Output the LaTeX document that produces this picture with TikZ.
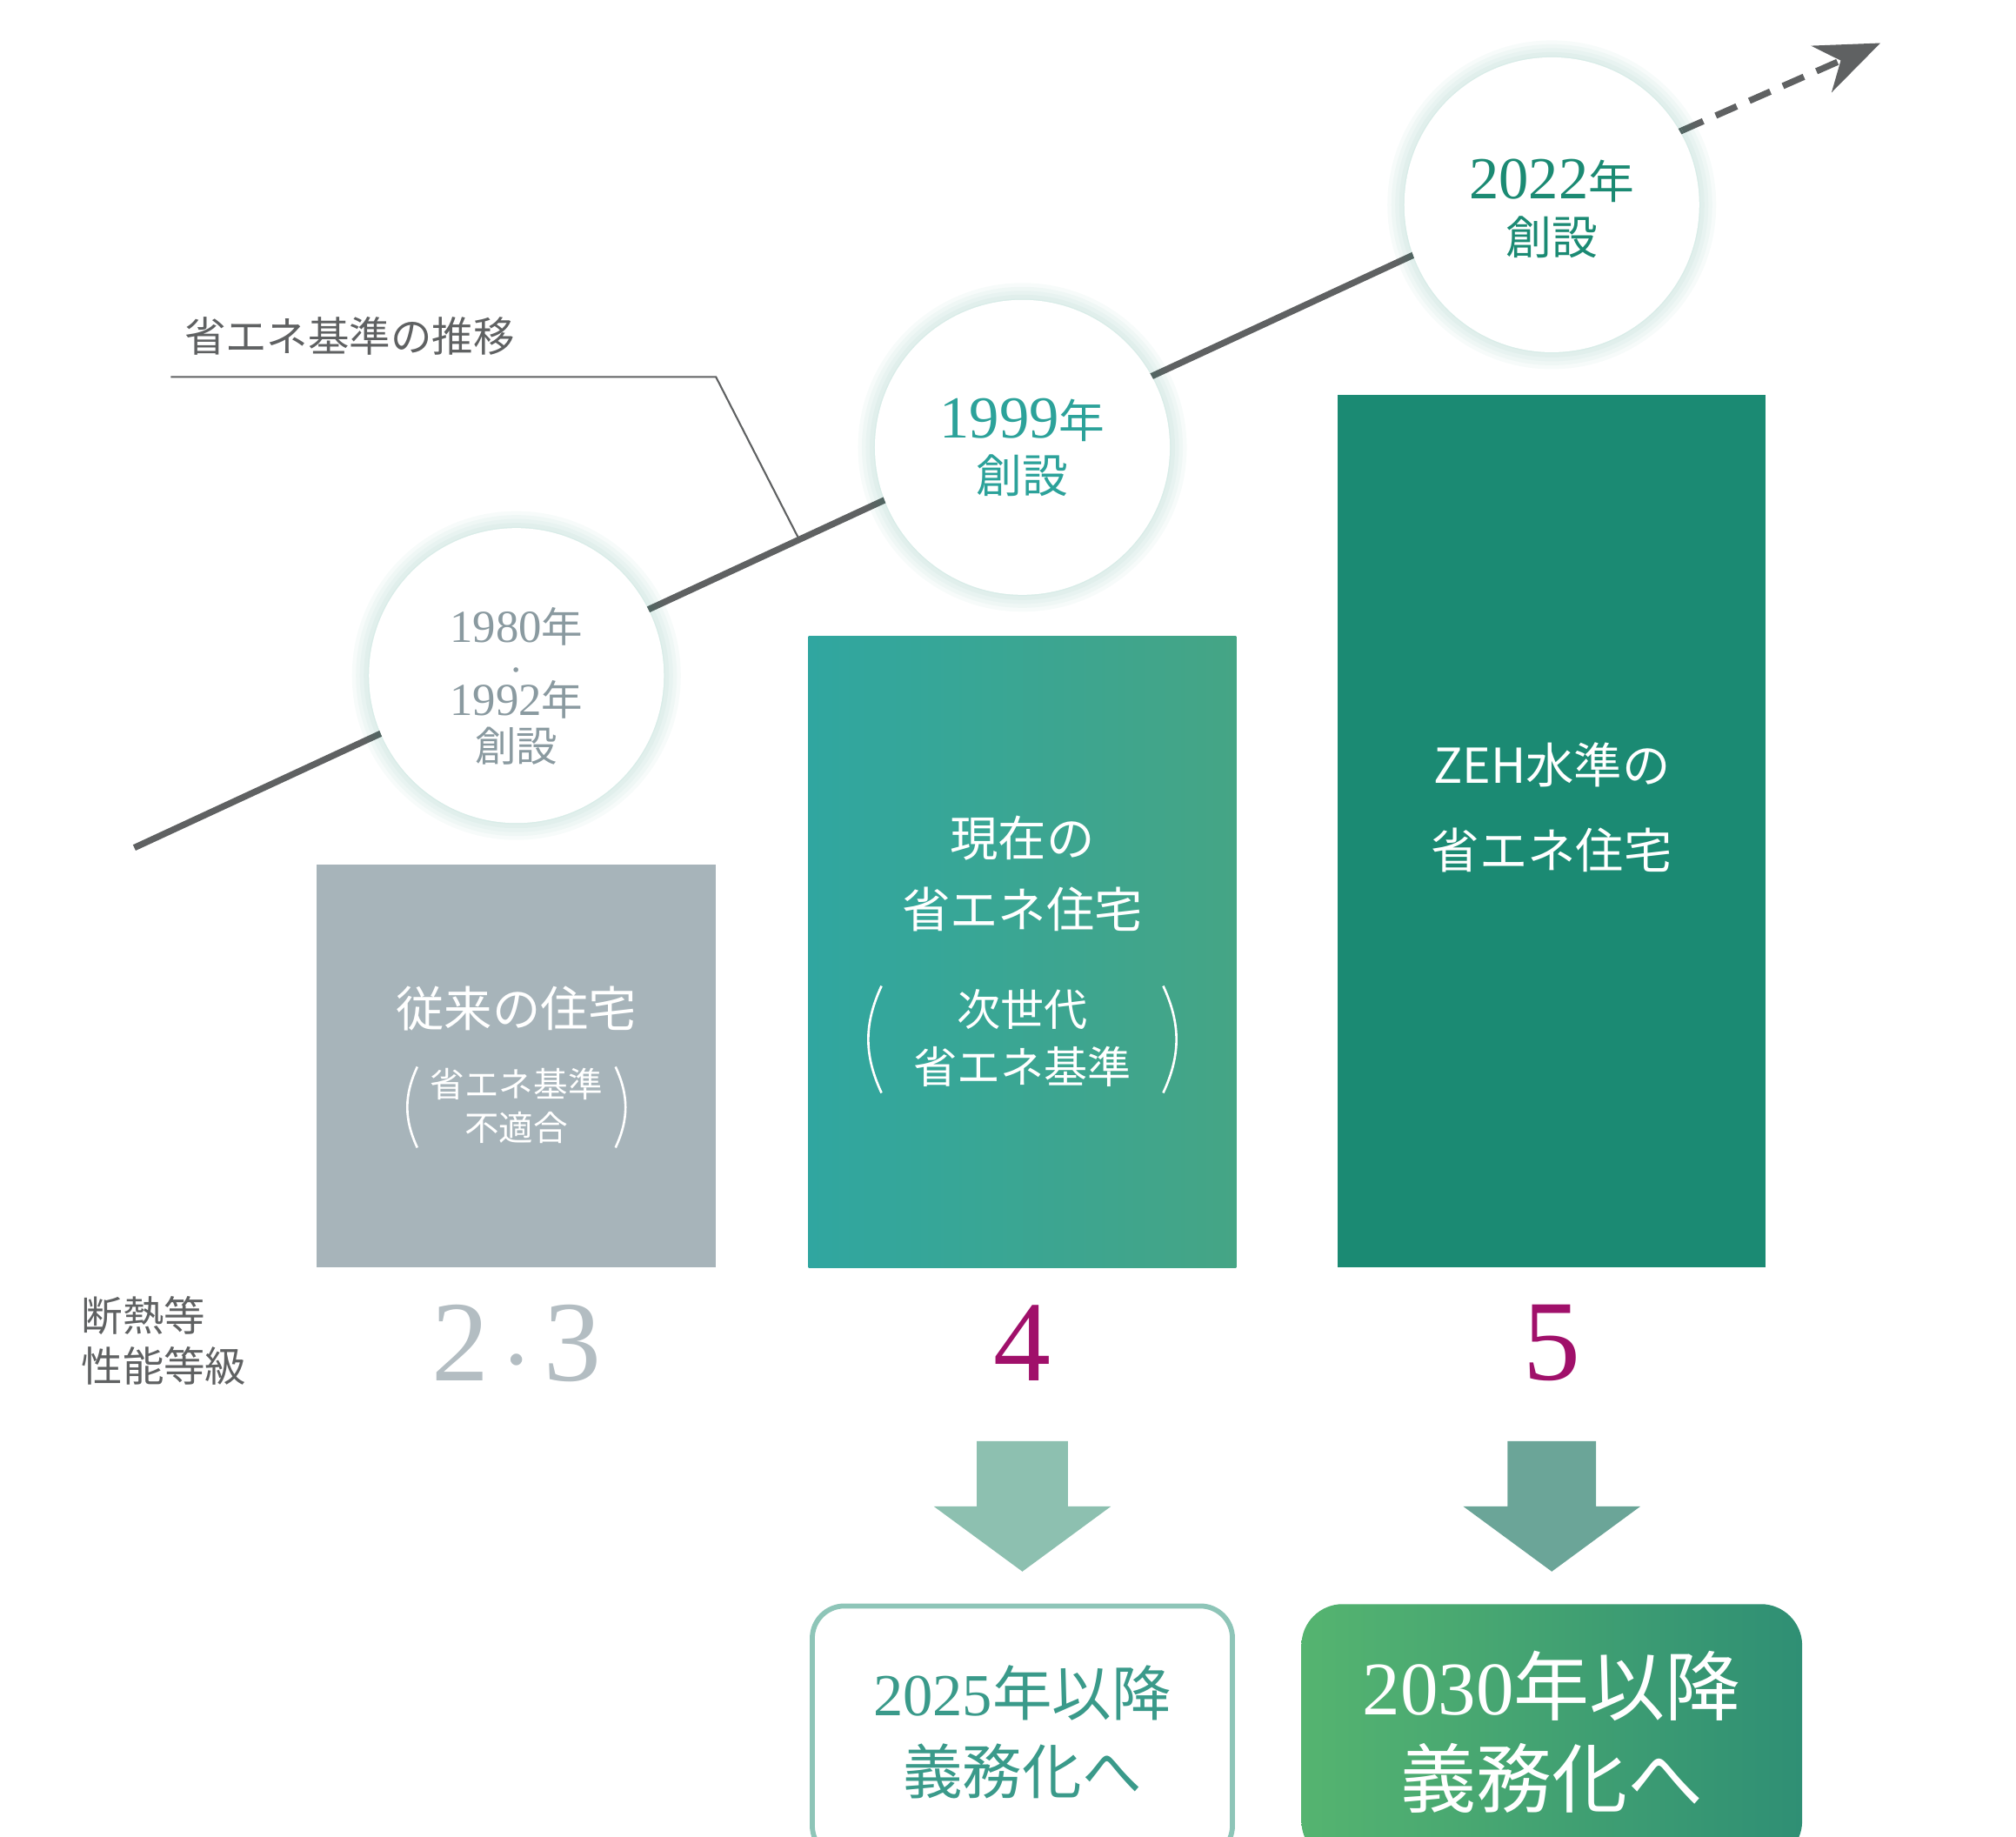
\documentclass[tikz,border=0pt]{standalone}
\usepackage{fontspec}
\setmainfont{Liberation Serif}
\newfontfamily\cjk{Noto Sans CJK JP}
\usetikzlibrary{shadows,arrows.meta}
\definecolor{lineg}{HTML}{5F6162}
\definecolor{boxgray}{HTML}{A7B4BA}
\definecolor{tealA}{HTML}{30A6A0}
\definecolor{tealB}{HTML}{45A585}
\definecolor{zeh}{HTML}{1B8A73}
\definecolor{mag}{HTML}{A0106A}
\definecolor{gnum}{HTML}{B3BDC2}
\definecolor{arrA}{HTML}{8DC0B0}
\definecolor{arrB}{HTML}{6BA598}
\definecolor{bord}{HTML}{8EC5B8}
\definecolor{txtA}{HTML}{3A9A8A}
\definecolor{grA}{HTML}{55B470}
\definecolor{grB}{HTML}{2F8F74}
\definecolor{cgray}{HTML}{8A9AA0}
\definecolor{c99}{HTML}{2CA29A}
\tikzset{
 circ/.style={circle,fill=white,minimum size=2.26cm,inner sep=0pt,align=center},
 halo/.style={circle,fill=zeh,fill opacity=0.035,inner sep=0pt},
 wt/.style={text=white,align=center,font=\cjk\fontsize{10.5}{14}\selectfont},
 paren/.style={line width=0.5pt},
 grade/.style={font=\fontsize{25}{25}\selectfont}
}
\begin{document}
\begin{tikzpicture}[x=0.01cm,y=-0.01cm]
\useasboundingbox (0,0) rectangle (1546,1408);
% trend line
\coordinate (L0) at (103,650);
\coordinate (L1) at (1290,100);
\coordinate (L2) at (1442,33);
\draw[lineg,line width=1.4pt] (L0) -- (L1);
\draw[lineg,line width=1.4pt,dashed,dash pattern=on 5pt off 3pt,-{Stealth[length=14pt,width=11pt]}] (L1) -- (L2);
% label
\node[font=\cjk\fontsize{9}{11}\selectfont,text=lineg,anchor=west] (lab) at (129,258) {省エネ基準の推移};
\coordinate (p1) at (131,289); \coordinate (p2) at (549,289); \coordinate (p3) at (612,412);
\draw[lineg,line width=0.4pt] (p1) -- (p2) -- (p3);
% circles with soft halo
\foreach \cx/\cy/\nm in {396/518/c1,784/343/c2,1190/157/c3}{
  \foreach \s in {2.28,2.34,2.40,2.46,2.52}{
    \node[halo,minimum size=\s cm] at (\cx,\cy) {};
  }
  \node[circ] (\nm) at (\cx,\cy) {};
}
\node[text=cgray,align=center,font=\fontsize{10}{12}\selectfont] (t1) at (396,526) {1980{\cjk\small 年}\\[-4pt]{\cjk\tiny ・}\\[-4pt]1992{\cjk\small 年}\\[-2pt]{\cjk\small 創設}};
\node[text=c99,align=center,font=\fontsize{13}{14}\selectfont] (t2) at (784,343) {1999{\cjk\normalsize 年}\\[-2pt]{\cjk\fontsize{10}{12}\selectfont 創設}};
\node[text=zeh,align=center,font=\fontsize{13}{14}\selectfont] (t3) at (1190,160) {2022{\cjk\normalsize 年}\\[-2pt]{\cjk\fontsize{10}{12}\selectfont 創設}};
% bars
\fill[boxgray] (243,663) rectangle (549,972);
\shade[left color=tealA,right color=tealB] (620,488) rectangle (948,972);
\fill[zeh] (1026,303) rectangle (1354,972);
\node[wt] (b1) at (396,773) {従来の住宅};
\node[text=white,align=center,font=\cjk\fontsize{7.5}{9.5}\selectfont] (b1s) at (396,848) {省エネ基準\\不適合};
\draw[white,paren] (320,818) to[bend right=25] (320,880);
\draw[white,paren] (472,818) to[bend left=25] (472,880);
\node[wt,font=\cjk\fontsize{10.5}{15.5}\selectfont] (b2) at (784,670) {現在の\\省エネ住宅};
\node[wt,font=\cjk\fontsize{9.5}{12.5}\selectfont] (b2s) at (784,796) {次世代\\省エネ基準};
\draw[white,paren] (676,756) to[bend right=25] (676,838);
\draw[white,paren] (892,756) to[bend left=25] (892,838);
\node[wt,font=\cjk\fontsize{10.5}{18.5}\selectfont] (b3) at (1190,619) {ZEH水準の\\省エネ住宅};
% grades
\node[anchor=west,text=lineg,align=left,font=\cjk\fontsize{9}{11}\selectfont] (gl) at (50,1028) {断熱等\\性能等級};
\node[grade,text=gnum] (g1) at (396,1030) {2{\cjk\fontsize{12}{12}\selectfont ・}3};
\node[grade,text=mag] (g2) at (784,1030) {4};
\node[grade,text=mag] (g3) at (1190,1030) {5};
% down arrows
\fill[arrA] (749,1105) -- (819,1105) -- (819,1155) -- (852,1155) -- (784,1205) -- (716,1155) -- (749,1155) -- cycle;
\fill[arrB] (1156,1105) -- (1224,1105) -- (1224,1155) -- (1258,1155) -- (1190,1205) -- (1122,1155) -- (1156,1155) -- cycle;
% bottom boxes
\node[draw=bord,line width=1.1pt,rounded corners=7pt,minimum width=3.22cm,minimum height=1.93cm,fill=white] (d1) at (784,1328) {};
\node[text=txtA,align=center,font=\fontsize{13}{17}\selectfont] at (d1) {2025{\cjk 年以降}\\{\cjk 義務化へ}};
\shade[rounded corners=9pt,left color=grA,right color=grB] (998,1230) rectangle (1382,1428);
\node[text=white,align=center,font=\fontsize{16.5}{20}\selectfont] (d2) at (1190,1328) {2030{\cjk 年以降}\\{\cjk 義務化へ}};
\end{tikzpicture}
\end{document}
